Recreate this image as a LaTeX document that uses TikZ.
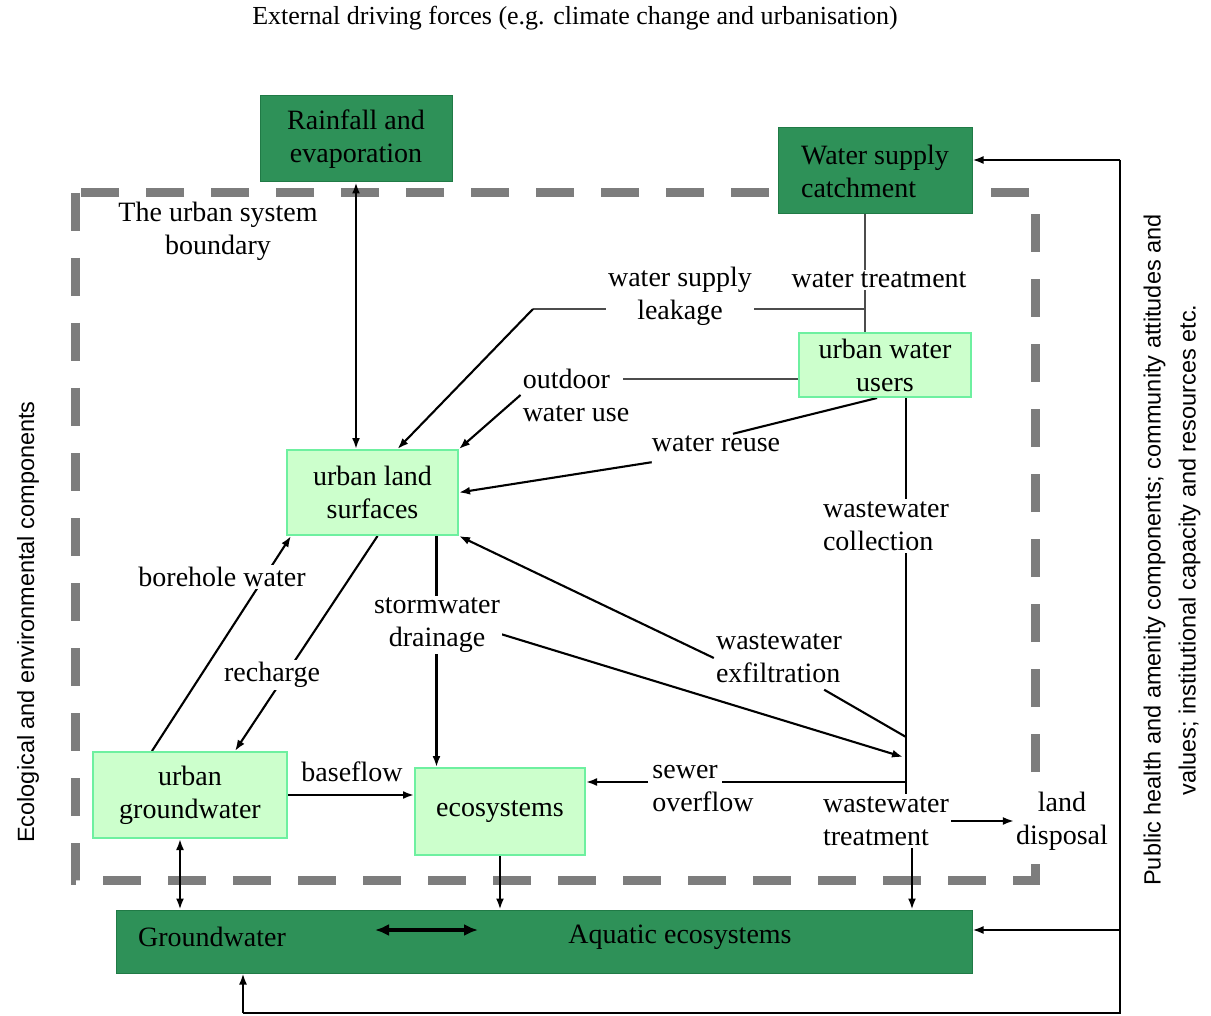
\documentclass[tikz,border=0pt]{standalone}
\usepackage{fontspec}
\setmainfont{Liberation Serif}
\newfontfamily\sidefont{Liberation Sans}
\usetikzlibrary{arrows.meta,calc,backgrounds}
\definecolor{dkgreen}{RGB}{46,145,88}
\definecolor{dkborder}{RGB}{32,122,70}
\definecolor{ltfill}{RGB}{204,255,204}
\definecolor{ltborder}{RGB}{110,240,160}
\definecolor{bgray}{RGB}{125,125,125}
\begin{document}
\begin{tikzpicture}[x=1pt,y=-1pt,
  every node/.style={font=\fontsize{28}{33}\selectfont, inner sep=2pt},
  darkbox/.style={draw=dkborder, fill=dkgreen, line width=1pt, align=center, inner sep=0pt},
  lightbox/.style={draw=ltborder, fill=ltfill, line width=2pt, align=center, inner sep=0pt},
  lbl/.style={fill=white, align=center},
  lbll/.style={fill=white, align=left},
  arr/.style={-{Latex[length=11pt,width=8pt]}, line width=2.1pt},
  darr/.style={{Latex[length=11pt,width=8pt]}-{Latex[length=11pt,width=8pt]}, line width=2.1pt},
  ln/.style={line width=2.1pt},
  thinln/.style={line width=1.6pt, black!70},
  boundary/.style={draw=bgray, line width=9pt, dash pattern=on 38pt off 27pt},
  sidetext/.style={font=\sidefont\fontsize{23.5}{35}\selectfont, rotate=90, align=center}
]
\useasboundingbox (0,0) rectangle (1211,1016);

% title and side texts
\node (title) [font=\fontsize{26}{30}\selectfont] at (575,18) {External driving forces (e.g. climate change and urbanisation)};
\node (lefttext) [sidetext] at (28,622) {Ecological and environmental components};
\node (righttext) [sidetext] at (1172,550) {Public health and amenity components; community attitudes and\\values; institutional capacity and resources etc.};

% boxes
\node (rain) [darkbox, minimum width=192pt, minimum height=86pt] at (356,139) {Rainfall and\\evaporation};
\node (cat) [darkbox, minimum width=194pt, minimum height=86pt, align=left] at (875,171) {Water supply\\catchment};
\node (uwu) [lightbox, minimum width=172pt, minimum height=64pt] at (885,365) {urban water\\users};
\node (uls) [lightbox, minimum width=171pt, minimum height=85pt] at (372.5,492.5) {urban land\\surfaces};
\node (ugw) [lightbox, minimum width=194pt, minimum height=86pt] at (190,795) {urban\\groundwater};
\node (eco) [lightbox, minimum width=170pt, minimum height=87pt] at (500,811.5) {ecosystems};
\node (bar) [darkbox, minimum width=856pt, minimum height=63pt] at (544,941.5) {};
\node (gwt) at (212,937) {Groundwater};
\node (aqt) at (680,937) {Aquatic ecosystems};

% labels
\node (usb) [lbl] at (218,231) {The urban system\\boundary};
\node (wt) [lbl] at (879,280) {water treatment};
\node (wsl) [lbl] at (680,296) {water supply\\leakage};
\node (owu) [align=left] at (576,395) {outdoor\\water use};
\node (wr) at (716,444) {water reuse};
\node (wwc) [lbll] at (886,526) {wastewater\\collection};
\node (wwe) [align=left] at (779,658) {wastewater\\exfiltration};
\node (bw) [lbl] at (222,577) {borehole water};
\node (rc) [lbl] at (272,675) {recharge};
\node (sd) [lbl] at (437,625) {stormwater\\drainage};
\node (bf) at (352,772) {baseflow};
\node (so) [align=left] at (703,789) {sewer\\overflow};
\node (wwt) [lbll] at (886,821) {wastewater\\treatment};
\node (ld) [lbl] at (1062,821) {land\\disposal};

% coordinates
\coordinate (wtop) at (906,397);
\coordinate (wbot) at (906,797);
\coordinate (sj) at (906,782);
\coordinate (sl) at (722,782);
\coordinate (sr) at (648,782);
\coordinate (exj) at (906,737);
\coordinate (stj) at (903,757);
\coordinate (lk) at (865,309);
\coordinate (lkc) at (533,309);
\coordinate (fb1) at (1120,160);
\coordinate (fb2) at (1120,1013);
\coordinate (fb3) at (243,1013);
\coordinate (fbm) at (1120,930);
\coordinate (dal) at (375,930);
\coordinate (dar) at (478,930);
\coordinate (wtx) at ($(cat.south)+(-10,0)$);
\coordinate (sdx) at ($(uls.south)+(64,0)$);
\coordinate (ugx) at ($(ugw.south)+(-10,0)$);
\coordinate (wwx) at ($(wwt.south)+(26,0)$);
\coordinate (owl) at ($(uwu.west)+(0,14)$);

\begin{pgfonlayer}{background}
\fill[white] (0,0) rectangle (1211,1016);
\draw[boundary] (75,193) rectangle (1035,880);

% water supply catchment -> users
\draw[thinln] (wtx) -- (wtx |- uwu.north);
% leakage
\draw[thinln] (lk) -- (lkc);
\draw[arr] (lkc) -- ($(uls.north)+(25,0)$);
% outdoor water use
\draw[thinln] (owl) -- ($(owu.east |- owl)+(-8,0)$);
\draw[arr] (owu.west) -- (uls.north east);
% water reuse
\draw[ln] ($(uwu.south)+(-8,0)$) -- ($(wr.north)+(17,0)$);
\draw[arr] ($(wr.south west)+(2,8)$) -- (uls.east);
% rainfall
\draw[darr] (rain.south) -- (rain.south |- uls.north);
% wastewater collection line
\draw[ln] (wtop) -- (wbot);
% exfiltration
\draw[ln] (exj) -- ($(wwe.south east)+(-20,5)$);
\draw[arr] (wwe.west) -- (uls.south east);
% stormwater
\draw[arr] (sdx) -- (sdx |- eco.north);
\draw[arr] ($(sd.east)+(-8,7)$) -- (stj);
% sewer overflow
\draw[ln] (sj) -- (sl);
\draw[arr] (sr) -- (eco.east |- sr);
% borehole / recharge
\draw[arr] ($(ugw.north)+(-38,0)$) -- ($(uls.south west)+(5,0)$);
\draw[arr] ($(uls.south)+(5,0)$) -- ($(ugw.north)+(45,0)$);
% baseflow
\draw[arr] (ugw.east) -- (eco.west |- ugw.east);
% to bar
\draw[darr] (ugx) -- (ugx |- bar.north);
\draw[arr] (eco.south) -- (eco.south |- bar.north);
\draw[arr] (wwx) -- (wwx |- bar.north);
\draw[arr] (wwt.east) -- (ld.west);
% feedback
\draw[arr] (fb1) -- (cat.east |- fb1);
\draw[ln] (fb1) -- (fb2) -- (fb3);
\draw[arr] (fb3) -- (fb3 |- bar.south);
\draw[arr] (fbm) -- (bar.east |- fbm);
\end{pgfonlayer}

% double arrow inside bar
\draw[line width=4pt, {Latex[length=14pt,width=12pt]}-{Latex[length=14pt,width=12pt]}] (dal) -- (dar);
\end{tikzpicture}
\end{document}
